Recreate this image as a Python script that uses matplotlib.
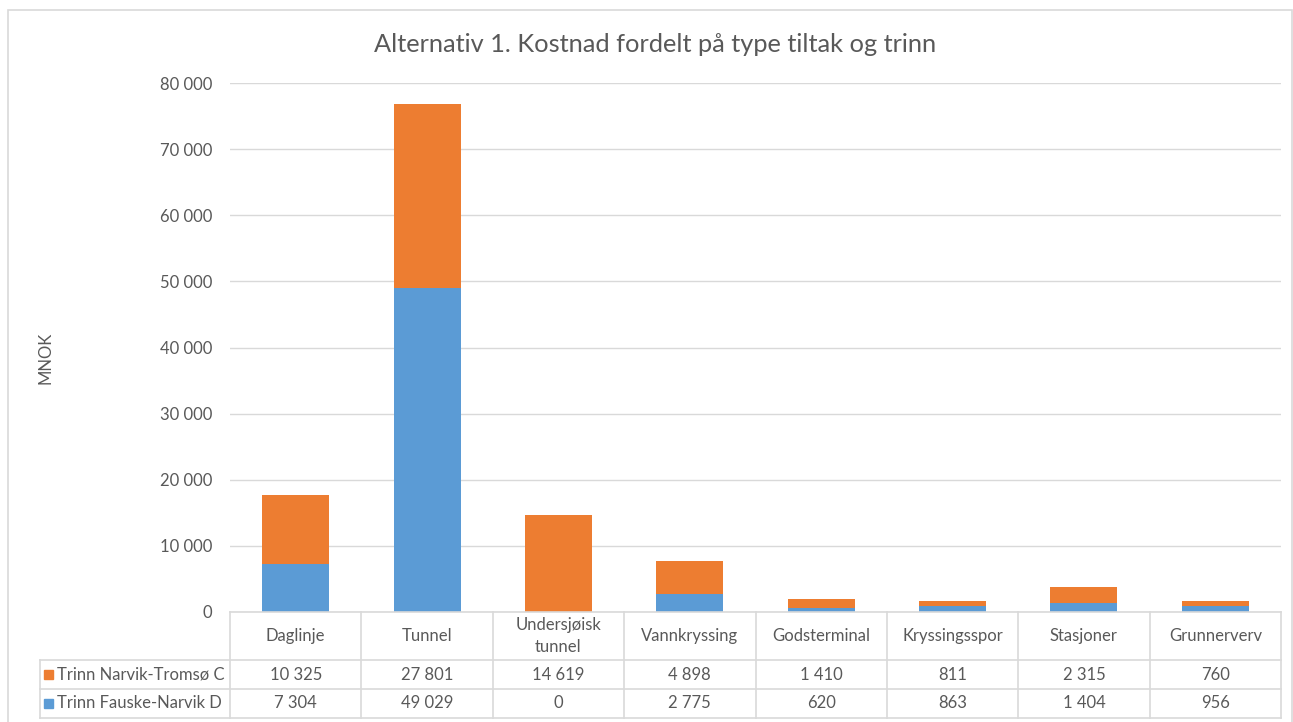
import matplotlib.pyplot as plt
from matplotlib.patches import Rectangle
from matplotlib.lines import Line2D

# Kostnader (MNOK) per type tiltak og trinn
kategorier = ['Daglinje', 'Tunnel', 'Undersjøisk\ntunnel', 'Vannkryssing',
              'Godsterminal', 'Kryssingsspor', 'Stasjoner', 'Grunnerverv']
narvik_tromso = [10325, 27801, 14619, 4898, 1410, 811, 2315, 760]
fauske_narvik = [7304, 49029, 0, 2775, 620, 863, 1404, 956]
serie_navn = ['Trinn Narvik-Tromsø C', 'Trinn Fauske-Narvik D']
yticks = list(range(0, 80001, 10000))

ORANSJE = '#ED7D31'
BLAA = '#5B9BD5'
TEKST = '#595959'
LINJE = '#D9D9D9'

plt.rcParams['font.family'] = ['Lato', 'DejaVu Sans']

W, H = 1293, 722
fig = plt.figure(figsize=(W / 100, H / 100), dpi=100)


def fx(px):
    return px / W


def fy(py):
    return 1 - py / H


def fmt(v):
    return f'{v:,}'.replace(',', ' ')


# plotområde i piksler
x0, x1 = 230, 1281
y_top, y_null = 83, 612
ax = fig.add_axes([fx(x0), fy(y_null), fx(x1) - fx(x0), fy(y_top) - fy(y_null)])

n = len(kategorier)
pos = list(range(n))
ax.bar(pos, fauske_narvik, width=0.51, color=BLAA, zorder=3)
ax.bar(pos, narvik_tromso, width=0.51, bottom=fauske_narvik, color=ORANSJE, zorder=3)

ax.set_xlim(-0.5, n - 0.5)
ax.set_ylim(0, 80000)
ax.set_yticks(yticks)
ax.set_yticklabels([fmt(v) for v in yticks], fontsize=12, color=TEKST)
ax.tick_params(axis='y', length=0, pad=13)
ax.set_xticks([])
ax.grid(axis='y', color=LINJE, linewidth=1, zorder=0)
for s in ax.spines.values():
    s.set_visible(False)

fig.text(fx(45), fy(358), 'MNOK', rotation=90, ha='center', va='center',
         fontsize=12, color=TEKST)
fig.text(fx(655), fy(44), 'Alternativ 1. Kostnad fordelt på type tiltak og trinn',
         ha='center', va='center', fontsize=18.3, color=TEKST)

# ramme rundt diagrammet
fig.patches.append(Rectangle((fx(8), fy(740)), fx(1292) - fx(8), fy(10) - fy(740),
                             transform=fig.transFigure, fill=False,
                             edgecolor=LINJE, linewidth=1.2))

# datatabell under aksen
col_w = (x1 - x0) / n
rad_y = [612, 660, 689, 718]
leg_x = 40


def hline(xa, xb, y):
    fig.add_artist(Line2D([fx(xa), fx(xb)], [fy(y), fy(y)], color=LINJE, lw=1.2))


def vline(x, ya, yb):
    fig.add_artist(Line2D([fx(x), fx(x)], [fy(ya), fy(yb)], color=LINJE, lw=1.2))


hline(x0, x1, rad_y[0])
for y in rad_y[1:]:
    hline(leg_x, x1, y)
for i in range(n + 1):
    vline(x0 + i * col_w, rad_y[0], rad_y[3])
vline(leg_x, rad_y[1], rad_y[3])

for i, kat in enumerate(kategorier):
    cx = x0 + (i + 0.5) * col_w
    fig.text(fx(cx), fy((rad_y[0] + rad_y[1]) / 2), kat, ha='center', va='center',
             fontsize=12, color=TEKST, linespacing=1.45)
    for r, serie in enumerate([narvik_tromso, fauske_narvik]):
        ym = (rad_y[r + 1] + rad_y[r + 2]) / 2
        fig.text(fx(cx), fy(ym), fmt(serie[i]), ha='center',
                 va='center', fontsize=12, color=TEKST)

for r, (navn, farge) in enumerate(zip(serie_navn, [ORANSJE, BLAA])):
    ym = (rad_y[r + 1] + rad_y[r + 2]) / 2
    fig.patches.append(Rectangle((fx(44), fy(ym + 4.5)), fx(9), 9 / H,
                                 transform=fig.transFigure, color=farge))
    fig.text(fx(57), fy(ym), navn, ha='left', va='center', fontsize=12, color=TEKST)

fig.savefig('out.png', dpi=100)
